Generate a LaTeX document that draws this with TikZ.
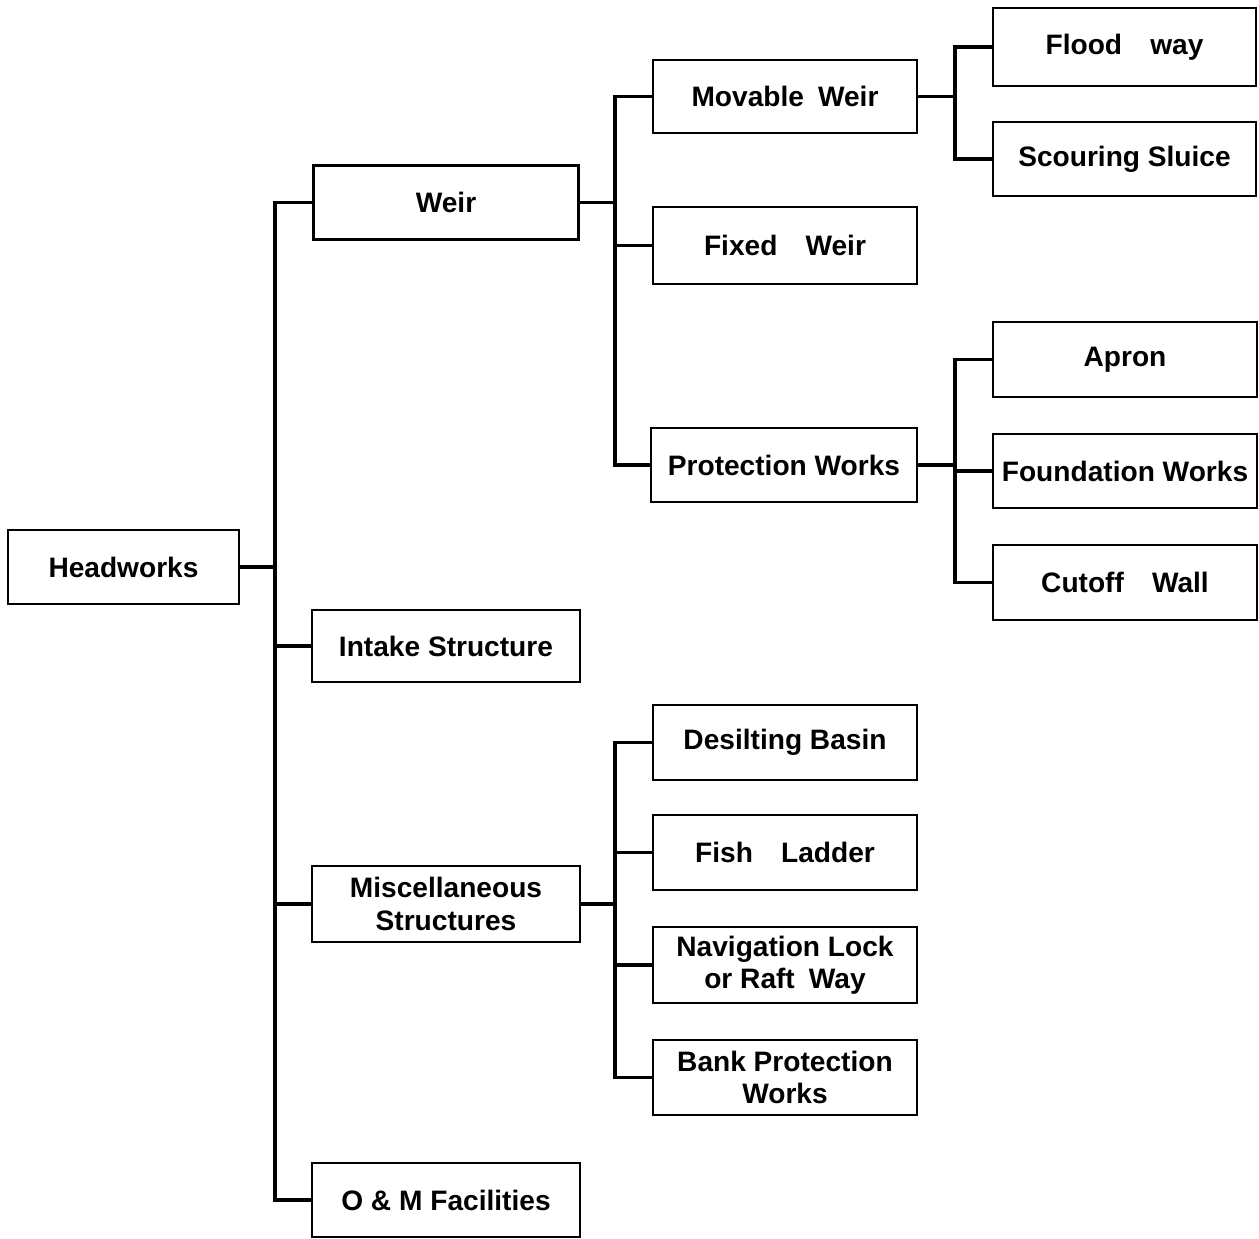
\documentclass[tikz,border=0pt]{standalone}
\usepackage{fontspec}
\setmainfont{Liberation Sans}
\begin{document}
\begin{tikzpicture}[x=0.02cm,y=-0.02cm,
  box/.style={draw, line width=1.4pt, rectangle, minimum width=5.28cm, minimum height=1.48cm,
    inner sep=0pt, align=center, font=\fontsize{16}{18.5}\selectfont\bfseries},
  link/.style={line width=1.9pt, line join=miter, line cap=rect}]
\useasboundingbox (0,0) rectangle (1259,1239);
% level 0
\node[box, minimum width=4.62cm] (hw) at (123.5,567) {Headworks};
% level 1
\node[box, minimum width=5.3cm] (weir) at (446,202.5) {Weir};
\node[box, minimum width=5.36cm, minimum height=1.44cm] (intake) at (446,646) {Intake Structure};
\node[box, minimum width=5.36cm, minimum height=1.52cm] (misc) at (446,904) {Miscellaneous\\Structures};
\node[box, minimum width=5.36cm] (om) at (446,1200) {O \& M Facilities};
% level 2
\node[box, minimum height=1.46cm] (movable) at (785,96.5) {Movable\enspace Weir};
\node[box, minimum height=1.54cm] (fixed) at (785,245.5) {Fixed\quad Weir};
\node[box, minimum width=5.32cm] (prot) at (784,465) {Protection Works};
\node[box, minimum height=1.5cm] (desilt) at (785,742.5) {Desilting Basin};
\node[box, minimum height=1.5cm] (fish) at (785,852.5) {Fish\quad Ladder};
\node[box, minimum height=1.52cm] (navig) at (785,965) {Navigation Lock\\or Raft\enspace Way};
\node[box, minimum height=1.5cm] (bank) at (785,1077.5) {Bank Protection\\Works};
% level 3
\node[box, minimum width=5.26cm, minimum height=1.56cm] (flood) at (1124.5,47) {Flood\quad way};
\node[box, minimum width=5.26cm] (scour) at (1124.5,159) {Scouring Sluice};
\node[box, minimum width=5.28cm, minimum height=1.5cm] (apron) at (1125,359.5) {Apron};
\node[box, minimum width=5.28cm] (found) at (1125,471) {Foundation Works};
\node[box, minimum width=5.28cm, minimum height=1.5cm] (cutoff) at (1125,582.5) {Cutoff\quad Wall};
% trunk coordinates
\coordinate (t1) at (275,0);
\coordinate (t2) at (615,0);
\coordinate (t3) at (955,0);
% headworks
\draw[link] (hw.east) -- (t1 |- hw.east);
\draw[link] (weir.west) -- (t1 |- weir.west) -- (t1 |- om.west) -- (om.west);
\foreach \n in {intake,misc} \draw[link] (\n.west) -- (t1 |- \n.west);
% weir
\draw[link] (weir.east) -- (t2 |- weir.east);
\draw[link] (movable.west) -- (t2 |- movable.west) -- (t2 |- prot.west) -- (prot.west);
\draw[link] (fixed.west) -- (t2 |- fixed.west);
% movable weir
\draw[link] (movable.east) -- (t3 |- movable.east);
\draw[link] (flood.west) -- (t3 |- flood.west) -- (t3 |- scour.west) -- (scour.west);
% protection works
\draw[link] (prot.east) -- (t3 |- prot.east);
\draw[link] (apron.west) -- (t3 |- apron.west) -- (t3 |- cutoff.west) -- (cutoff.west);
\draw[link] (found.west) -- (t3 |- found.west);
% miscellaneous
\draw[link] (misc.east) -- (t2 |- misc.east);
\draw[link] (desilt.west) -- (t2 |- desilt.west) -- (t2 |- bank.west) -- (bank.west);
\foreach \n in {fish,navig} \draw[link] (\n.west) -- (t2 |- \n.west);
\end{tikzpicture}
\end{document}
